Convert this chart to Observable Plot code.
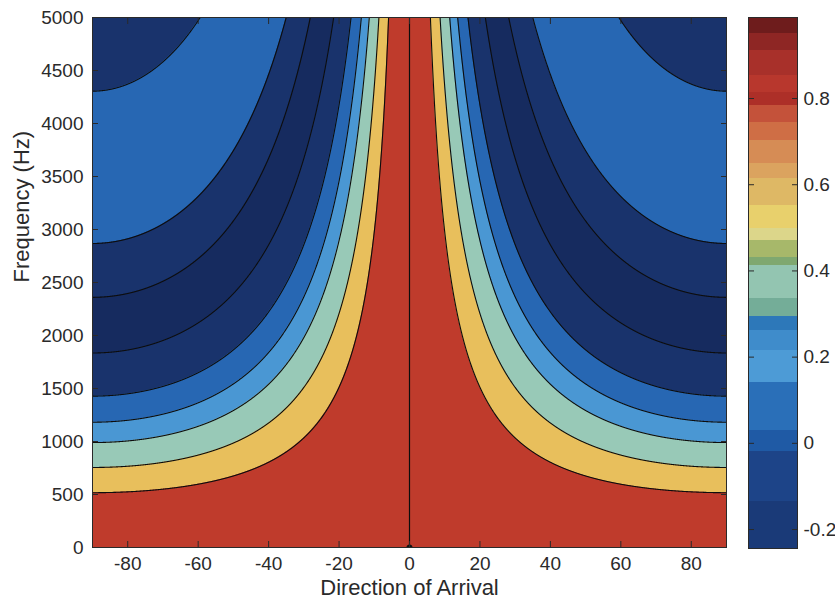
<!DOCTYPE html>
<html>
<head>
<meta charset="utf-8">
<script src="https://cdn.jsdelivr.net/npm/d3@7"></script>
<script src="https://cdn.jsdelivr.net/npm/@observablehq/plot@0.6"></script>
<style>
  html, body { margin: 0; padding: 0; background: #fff; }
  #wrap { position: relative; width: 835px; height: 606px; overflow: hidden; }
  #main { position: absolute; left: 0; top: 0; }
  #cbar { position: absolute; left: 740px; top: 0; }
</style>
</head>
<body>
<div id="wrap"><div id="main"></div><div id="cbar"></div></div>
<script>
// ---- data ----
const thetaTicks = [-80, -60, -40, -20, 0, 20, 40, 60, 80];
const freqTicks = [0, 500, 1000, 1500, 2000, 2500, 3000, 3500, 4000, 4500, 5000];
const colorbarTicks = [-0.2, 0, 0.2, 0.4, 0.6, 0.8];

// frequency (Hz) at which each contour line meets the ±90° edges, bottom to top
const edgeFreq = [517, 755, 990, 1182, 1428, 1835, 2360, 2868, 4305];
// contour level of each of those lines
const edgeLevel = [0.8, 0.6, 0.4, 0.2, 0, -0.2, -0.2, 0, 0];
// fill colour of each band, bottom band first (band k lies above edge k-1)
const bandColor = ["#bf3b2c", "#e8bf5c", "#98c9b7", "#4a97d3", "#2767b3", "#19336c", "#162b5f", "#19336c", "#2767b3", "#19336c"];

// colorbar steps (top value of each step, top to bottom) and their colours
const cbTop = [0.988, 0.951, 0.911, 0.853, 0.814, 0.784, 0.744, 0.702, 0.649, 0.614, 0.551, 0.498, 0.470, 0.431, 0.412, 0.335, 0.294, 0.261, 0.215, 0.140, 0.029, -0.018, -0.134];
const cbBottom = -0.244;
const cbColor = ["#6e1c1c", "#8e2624", "#a8302a", "#b8372d", "#ad2f28", "#c4523a", "#cf6e45", "#d68c55", "#dba35f", "#deb865", "#e8d06c", "#dcd68a", "#a7b86a", "#7fa870", "#93c5b1", "#74ad98", "#2d78b9", "#3f8ccb", "#4d9bd6", "#2a6fb8", "#1f5aa5", "#1d4488", "#1a3a78"];

// ---- drawing ----
const FONT = "'Liberation Sans', Arial, Helvetica, sans-serif";
const INK = "#2a2a2a";
const thetas = d3.range(-1800, 1801).map(i => i / 20);
const CAP = 5600;
// contour lines follow constant f·|sin θ| (checked against the picture)
const fAt = (F, th) => {
  const s = Math.abs(Math.sin(th * Math.PI / 180));
  return s === 0 ? CAP : Math.min(F / s, CAP);
};

const bandMarks = [Plot.areaY(thetas, {x: d => d, y1: 0, y2: CAP, fill: bandColor[0], clip: true})];
edgeFreq.forEach((F, k) => {
  bandMarks.push(Plot.areaY(thetas, {x: d => d, y1: d => fAt(F, d), y2: CAP, fill: bandColor[k + 1], clip: true}));
});
const lineMarks = edgeFreq.map(F =>
  Plot.line(thetas, {x: d => d, y: d => fAt(F, d), stroke: "#0d0d0d", strokeWidth: 1.1, clip: true})
);

const main = Plot.plot({
  width: 740, height: 606,
  marginLeft: 92, marginRight: 14, marginTop: 17, marginBottom: 59,
  style: {fontFamily: FONT, color: INK, background: "transparent"},
  x: {domain: [-90, 90]},
  y: {domain: [0, 5000]},
  marks: [
    ...bandMarks,
    ...lineMarks,
    Plot.ruleX([0], {x: d => d, stroke: "#0d0d0d", strokeWidth: 1.2}),
    Plot.dot([0], {x: 0, y: 0, r: 3, fill: "#111", clip: true}),
    Plot.frame({stroke: INK, strokeWidth: 1}),
    Plot.axisX({ticks: thetaTicks, tickSize: -6, tickPadding: 15, tickFormat: d => String(d), fontSize: 19, label: null}),
    Plot.axisX({anchor: "top", ticks: thetaTicks, tickSize: -6, tickFormat: () => "", label: null}),
    Plot.axisY({ticks: freqTicks, tickSize: -6, tickPadding: 15, tickFormat: d => String(d), fontSize: 19, label: null}),
    Plot.axisY({anchor: "right", ticks: freqTicks, tickSize: -6, tickFormat: () => "", label: null}),
    Plot.text(["Direction of Arrival"], {text: d => d, frameAnchor: "bottom", dy: 47, fontSize: 22, fill: INK}),
    Plot.text(["Frequency (Hz)"], {text: d => d, frameAnchor: "left", dx: -71, rotate: -90, fontSize: 22, fill: INK})
  ]
});
document.getElementById("main").appendChild(main);

const cbSteps = cbTop.map((hi, i) => ({hi, lo: i + 1 < cbTop.length ? cbTop[i + 1] : cbBottom, color: cbColor[i]}));
const cbar = Plot.plot({
  width: 95, height: 606,
  marginLeft: 8, marginRight: 38, marginTop: 17, marginBottom: 58,
  style: {fontFamily: FONT, color: INK, background: "transparent"},
  x: {domain: [0, 1]},
  y: {domain: [cbBottom, cbTop[0]]},
  color: {type: "identity"},
  marks: [
    Plot.rect(cbSteps, {x1: 0, x2: 1, y1: "lo", y2: "hi", fill: "color", shapeRendering: "crispEdges"}),
    Plot.frame({stroke: INK, strokeWidth: 1}),
    Plot.axisY({anchor: "right", ticks: colorbarTicks, tickSize: -6, tickPadding: 12, tickFormat: d => String(d), fontSize: 19, label: null}),
    Plot.axisY({anchor: "left", ticks: colorbarTicks, tickSize: -6, tickFormat: () => "", label: null}),
    Plot.axisX({ticks: [], label: null, tickSize: 0})
  ]
});
document.getElementById("cbar").appendChild(cbar);
</script>
</body>
</html>
